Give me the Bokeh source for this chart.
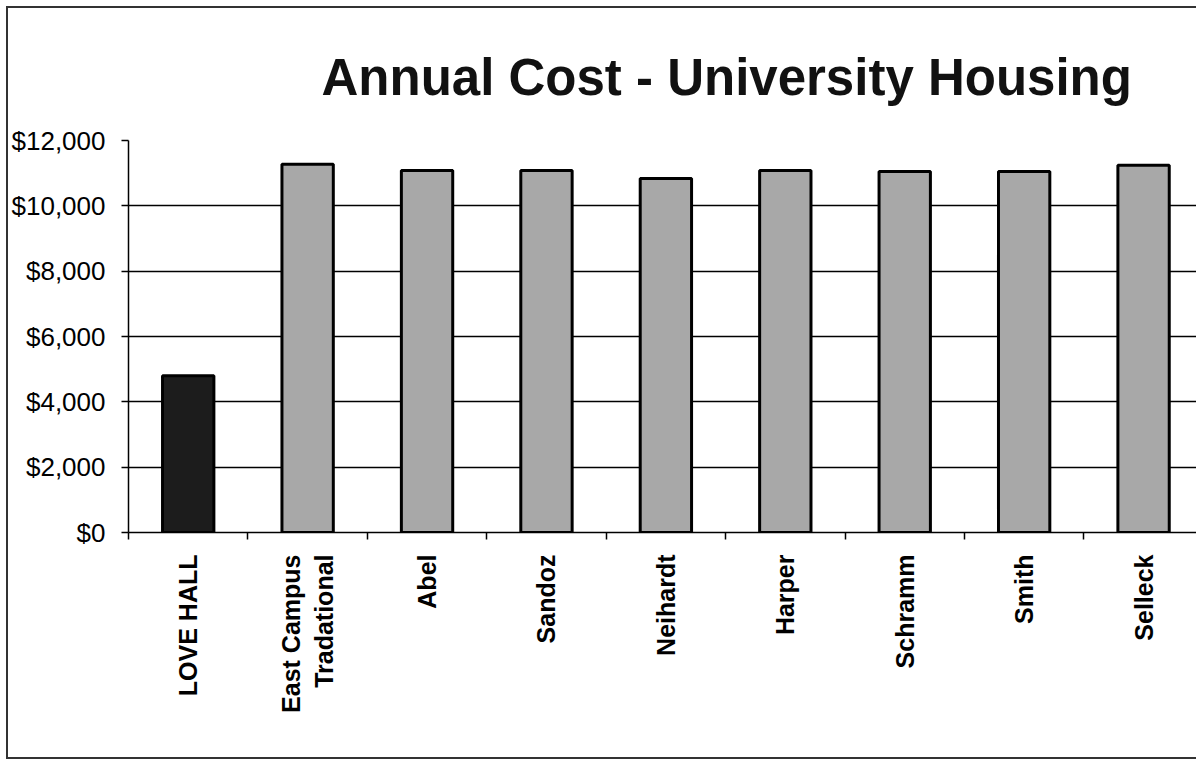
import math
from bokeh.plotting import figure
from bokeh.models import FixedTicker, NumeralTickFormatter, Range1d, ColumnDataSource
from bokeh.embed import file_html
from bokeh.resources import INLINE

# ---- data ----
categories = ["LOVE HALL", "East Campus\nTradational", "Abel", "Sandoz", "Neihardt",
              "Harper", "Schramm", "Smith", "Selleck"]
costs = [4800, 11270, 11080, 11080, 10840, 11080, 11050, 11050, 11240]
bar_colors = ["#1c1c1c", "#a8a8a8", "#a8a8a8", "#a8a8a8", "#a8a8a8",
              "#a8a8a8", "#a8a8a8", "#a8a8a8", "#a8a8a8"]
y_ticks = [0, 2000, 4000, 6000, 8000, 10000, 12000]
grid_ticks = [2000, 4000, 6000, 8000, 10000]

centers = [i + 0.5 for i in range(len(categories))]
bounds = list(range(len(categories) + 1))

src = ColumnDataSource(dict(x=centers, top=costs, color=bar_colors, name=categories))

p = figure(width=1190, height=753,
           x_range=Range1d(0, 8.96), y_range=Range1d(0, 12000),
           output_backend="svg", toolbar_location=None,
           min_border_left=118, min_border_top=132, min_border_bottom=229,
           min_border_right=0)

p.vbar(x="x", top="top", width=0.43, fill_color="color", line_color="black",
       line_width=3, source=src)

# title
p.title.text = "Annual Cost - University Housing"
p.title.text_font = "Liberation Sans"
p.title.text_font_style = "bold"
p.title.text_font_size = "51px"
p.title.text_color = "#111111"
p.title.align = "left"
p.title.offset = 193
p.title.standoff = 70

# x axis
xa = p.xaxis[0]
xa.ticker = FixedTicker(ticks=centers, minor_ticks=bounds)
xa.major_label_overrides = {c: n for c, n in zip(centers, categories)}
xa.major_label_orientation = math.pi / 2
xa.major_tick_in = 0
xa.major_tick_out = 0
xa.minor_tick_in = 0
xa.minor_tick_out = 7
xa.minor_tick_line_color = "black"
xa.minor_tick_line_width = 1.5
xa.axis_line_color = "black"
xa.axis_line_width = 1.5
xa.major_label_standoff = 15
xa.major_label_text_font = "Liberation Sans"
xa.major_label_text_font_style = "bold"
xa.major_label_text_font_size = "25px"
xa.major_label_text_color = "black"

# y axis
ya = p.yaxis[0]
ya.ticker = FixedTicker(ticks=y_ticks)
ya.formatter = NumeralTickFormatter(format="$0,0")
ya.major_tick_in = 0
ya.major_tick_out = 7
ya.minor_tick_line_color = None
ya.major_tick_line_color = "black"
ya.major_tick_line_width = 1.5
ya.axis_line_color = "black"
ya.axis_line_width = 1.5
ya.major_label_standoff = 16
ya.major_label_text_font = "Liberation Sans"
ya.major_label_text_font_size = "26px"
ya.major_label_text_color = "black"

# grid
p.xgrid.visible = False
p.ygrid.ticker = FixedTicker(ticks=grid_ticks)
p.ygrid.grid_line_color = "black"
p.ygrid.grid_line_width = 1.5
p.outline_line_color = None

p.styles = {"margin-left": "6px", "margin-top": "6px",
            "border-top": "2px solid #333", "border-left": "2px solid #333",
            "border-bottom": "2px solid #333", "box-sizing": "border-box"}

open("out.html", "w").write(file_html(p, INLINE))
